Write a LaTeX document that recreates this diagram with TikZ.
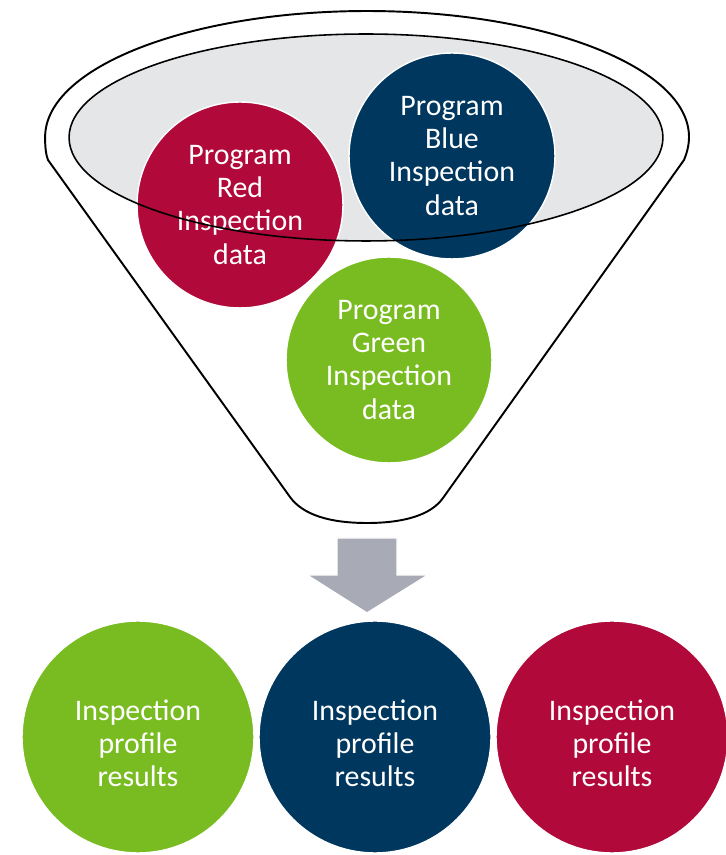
\documentclass[tikz,border=0pt]{standalone}
\usepackage{fontspec}
\setmainfont{Carlito}
\definecolor{progred}{HTML}{B0093A}
\definecolor{progblue}{HTML}{00375F}
\definecolor{proggreen}{HTML}{79BC21}
\definecolor{rimgray}{HTML}{E5E6E8}
\definecolor{flowgray}{HTML}{A8ABB6}
\tikzset{
  blob/.style={circle, inner sep=0pt, minimum size=4.12cm, align=center,
    text=white, draw=white, line width=0.8pt,
    font=\fontsize{17}{18.8}\selectfont},
  restext/.style={align=center, text=white, yshift=-0.13cm,
    font=\fontsize{17}{18.8}\selectfont},
  result/.style={blob, minimum size=4.64cm,
    label={[restext]center:{Inspection\\profile\\results}}},
  funnel/.style={draw=black, line width=1.1pt, line join=round}
}
\begin{document}
\begin{tikzpicture}[x=0.02cm, y=0.02cm]
      \useasboundingbox (0,0) rectangle (725,855);
      % Funnel:
      %   outer rim plus the two sides and the rounded spout
      \draw[funnel] (689,718) arc[start angle=0, end angle=180, x radius=6.44cm, y radius=2.52cm]
        .. controls (45,708) and (46,700) .. (48,695) -- (290,358)
        .. controls (303,340) and (330,332) .. (367,332)
        .. controls (404,332) and (431,340) .. (443,357) -- (684,695)
        .. controls (686,700) and (689,708) .. cycle;
      % Rim:
      %   gray opening, filled under the circles, outlined over them
      \fill[rimgray] (366,717.5) ellipse[x radius=5.94cm, y radius=2.07cm];
      % Inputs:
      %   inspection data of the three programs
      \node[blob, fill=progred] (red) at (240,650) {Program\\Red\\Inspection\\data};
      \node[blob, fill=progblue] (blue) at (452,699) {Program\\Blue\\Inspection\\data};
      \node[blob, fill=proggreen] (green) at (389,495) {Program\\Green\\Inspection\\data};
      \draw[funnel, line width=0.9pt] (366,717.5) ellipse[x radius=5.94cm, y radius=2.07cm];
      % Flow:
      %   block arrow out of the spout
      \filldraw[fill=flowgray, draw=white, line width=0.8pt]
        (337,317) -- (397,317) -- (397,280) -- (428,280) -- (367,242)
        -- (307,280) -- (337,280) -- cycle;
      % Results:
      %   one inspection profile per program
      \node[result, fill=proggreen] (resgreen) at (138,118) {};
      \node[result, fill=progblue] (resblue) at (375,118) {};
      \node[result, fill=progred] (resred) at (612,118) {};
    \end{tikzpicture}
\end{document}
